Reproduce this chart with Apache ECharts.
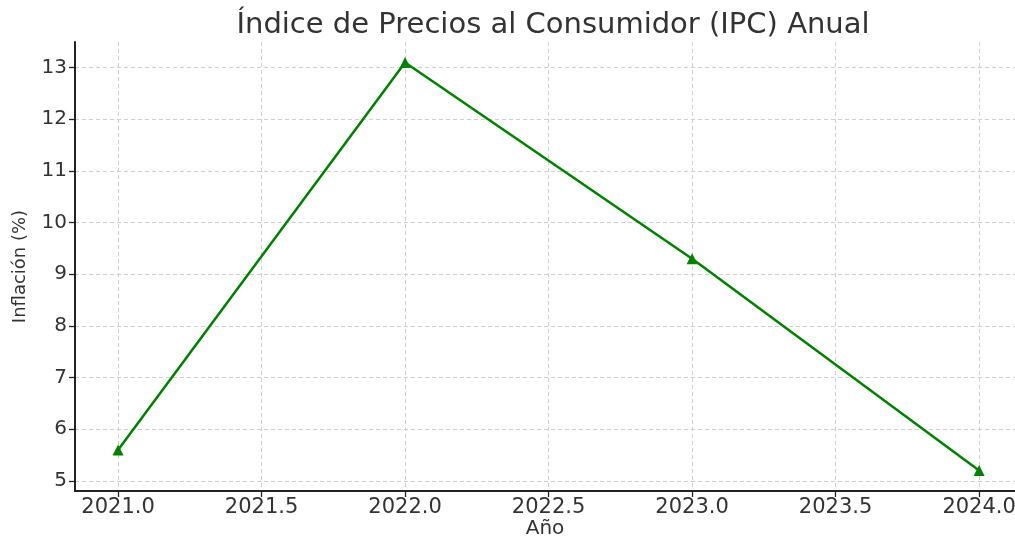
<!DOCTYPE html>
<html>
<head>
<meta charset="utf-8">
<script src="https://cdn.jsdelivr.net/npm/echarts@6/dist/echarts.min.js"></script>
<style>
  html, body { margin: 0; padding: 0; background: #fff; }
  #chart { width: 1015px; height: 537px; }
</style>
</head>
<body>
<div id="chart"></div>
<script>
// datos
var years = [2021, 2022, 2023, 2024];
var inflacion = [5.6, 13.1, 9.3, 5.2];
var xMin = 2020.85, xMax = 2024.125;
var yMin = 4.805, yMax = 13.495;

var myChart = echarts.init(document.getElementById('chart'));
var font = 'DejaVu Sans';
var axisColor = '#222';
var gridStyle = { color: '#cfcfcf', type: [4, 3], width: 1 };

myChart.setOption({
  animation: false,
  textStyle: { fontFamily: font },
  title: {
    text: 'Índice de Precios al Consumidor (IPC) Anual',
    left: 548,
    textAlign: 'center',
    top: 6,
    textStyle: { fontFamily: font, fontSize: 29, fontWeight: 'normal', color: '#333' }
  },
  grid: { left: 75, right: 0, top: 42, bottom: 46, outerBoundsMode: 'none', containLabel: false },
  xAxis: {
    type: 'value',
    min: xMin,
    max: xMax,
    splitNumber: 6,
    name: 'Año',
    nameLocation: 'middle',
    nameGap: 38,
    nameMoveOverlap: false,
    nameTextStyle: { fontSize: 20, color: '#333', verticalAlign: 'middle' },
    axisLine: { show: true, lineStyle: { color: axisColor, width: 2 } },
    axisTick: { show: true, length: 6, lineStyle: { color: axisColor, width: 1.3 } },
    axisLabel: {
      fontSize: 21, color: '#333', margin: 6,
      showMinLabel: false, showMaxLabel: false,
      formatter: function (v) { return v.toFixed(1); }
    },
    splitLine: { show: true, showMinLine: false, showMaxLine: false, lineStyle: gridStyle }
  },
  yAxis: {
    type: 'value',
    min: yMin,
    max: yMax,
    splitNumber: 8,
    name: 'Inflación (%)',
    nameLocation: 'middle',
    nameGap: 46,
    nameMoveOverlap: false,
    nameTextStyle: { fontSize: 18, color: '#333' },
    axisLine: { show: true, lineStyle: { color: axisColor, width: 2 } },
    axisTick: { show: true, length: 6, lineStyle: { color: axisColor, width: 1.3 } },
    axisLabel: {
      fontSize: 20, color: '#333', margin: 8,
      showMinLabel: false, showMaxLabel: false,
      formatter: function (v) { return String(Math.round(v)); }
    },
    splitLine: { show: true, showMinLine: false, showMaxLine: false, lineStyle: gridStyle }
  },
  series: [{
    type: 'line',
    data: years.map(function (y, i) { return [y, inflacion[i]]; }),
    symbol: 'triangle',
    symbolSize: 11,
    lineStyle: { color: '#008000', width: 2.5 },
    itemStyle: { color: '#008000' }
  }]
});
</script>
</body>
</html>
